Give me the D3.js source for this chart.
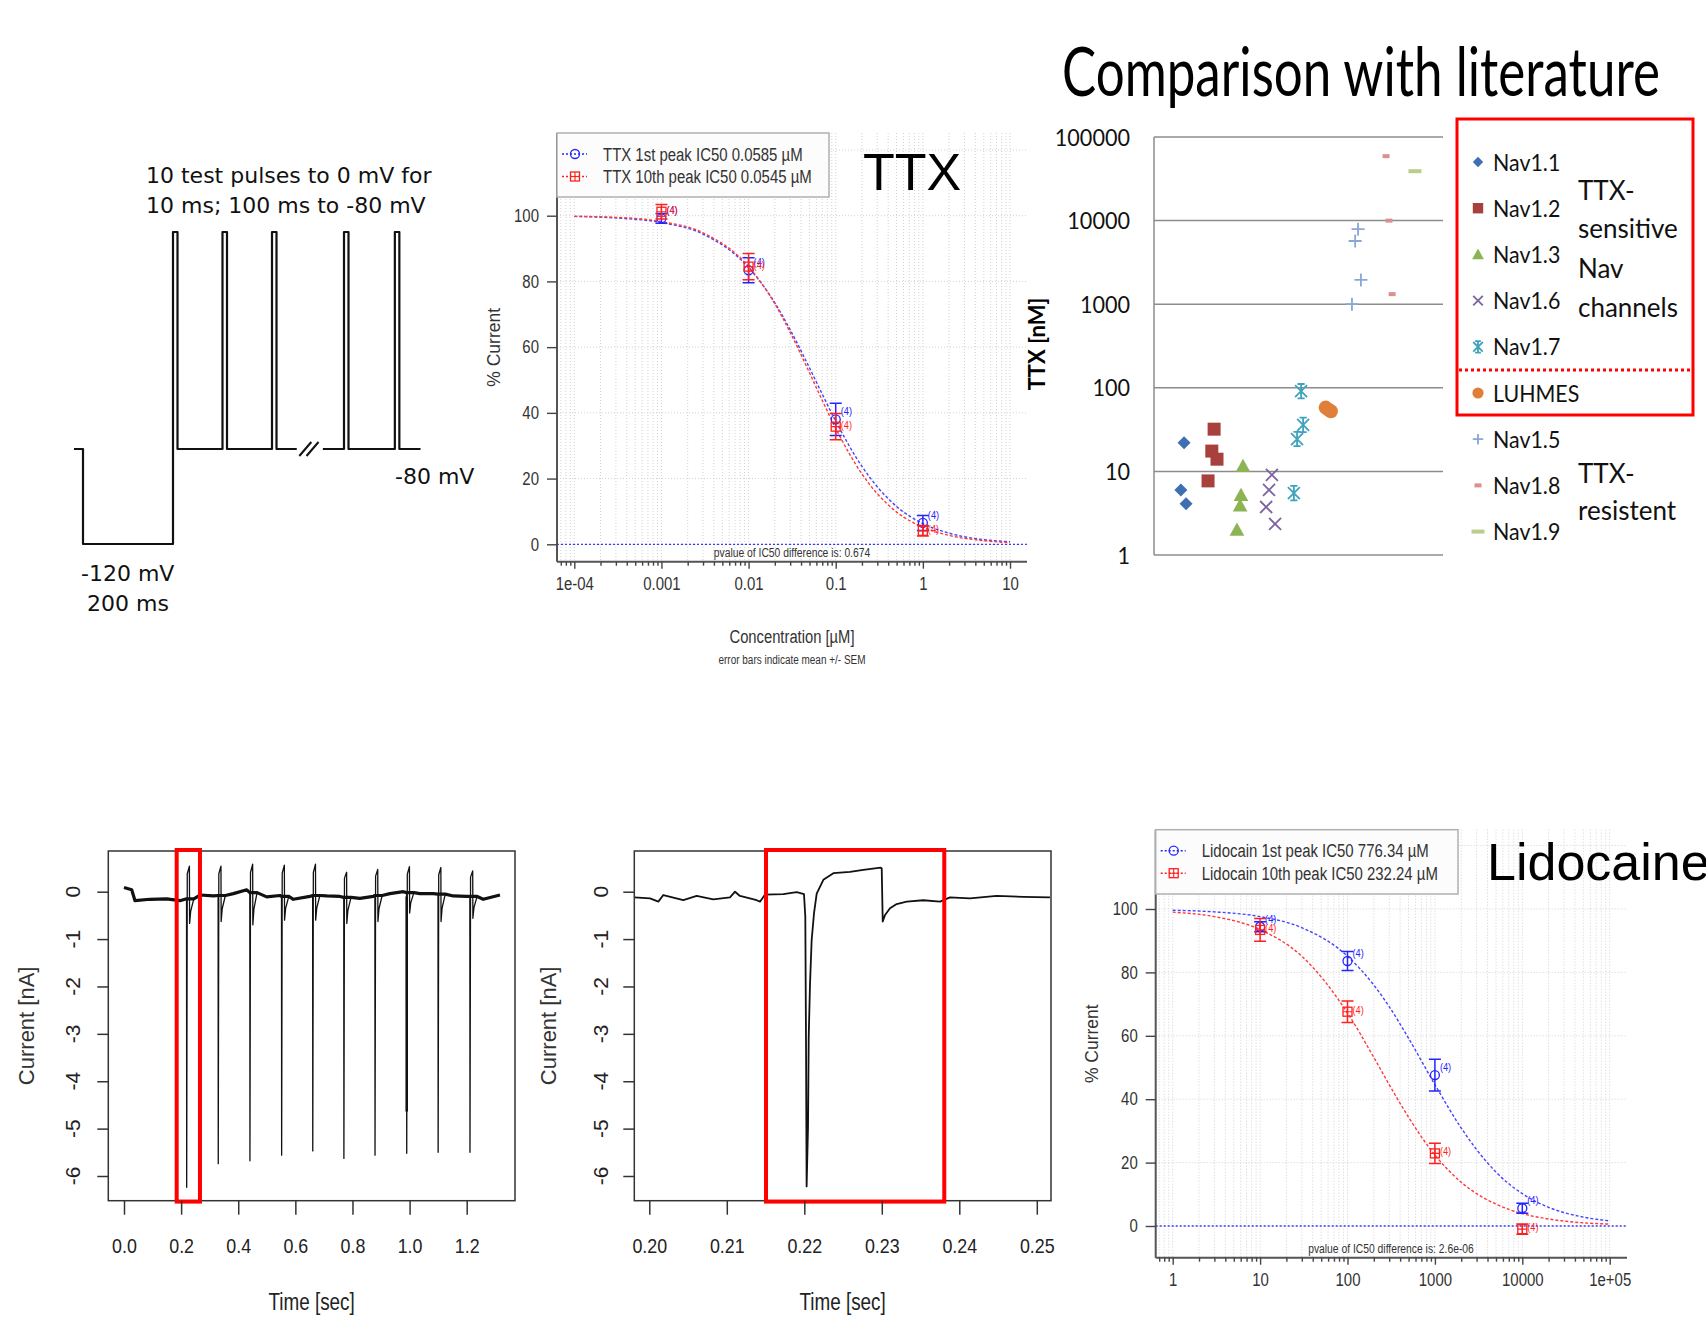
<!DOCTYPE html>
<html lang="en">
<head>
<meta charset="utf-8">
<title>Nav currents: protocol, TTX and lidocaine</title>
<script src="https://cdn.jsdelivr.net/npm/d3@7"></script>
<style>
  body { margin: 0; background: #fff; }
  svg { display: block; }
</style>
</head>
<body>
<script>
// ---------------- data ----------------

// stimulation protocol (time in ms, potential in mV)
var protoTime1 = [-20, 0, 0, 200, 200, 210, 210, 310, 310, 320, 320, 420, 420, 430, 430, 475];
var protoVolt1 = [-80, -80, -120, -120, 0, 0, -80, -80, 0, 0, -80, -80, 0, 0, -80, -80];
var protoTime2 = [533, 580, 580, 590, 590, 693, 693, 703, 703, 750];
var protoVolt2 = [-80, -80, 0, 0, -80, -80, 0, 0, -80, -80];
var protoBreakTime = [494, 510];
var protoText = ["10 test pulses to 0 mV for", "10 ms; 100 ms to -80 mV", "-80 mV", "-120 mV", "200 ms"];

// TTX dose response (µM, % current)
var ttxConc = [0.001, 0.01, 0.1, 1];
var ttxFirstMean = [99.2, 83.4, 38.0, 6.5];
var ttxFirstSem = [1.5, 3.8, 4.9, 2.3];
var ttxTenthMean = [101.2, 84.5, 35.8, 4.1];
var ttxTenthSem = [2.2, 4.0, 4.0, 1.6];
var ttxCounts = [4, 4, 4, 4];
var ttxCurveConc = [1e-4, 3e-4, 0.001, 0.003, 0.01, 0.02, 0.03, 0.05, 0.07, 0.1, 0.2, 0.3, 0.5, 1, 2, 5, 10];
var ttxFirstCurve = [99.8, 99.3, 97.9, 94.4, 84.2, 73.5, 65.3, 53.7, 45.7, 37.5, 23.7, 17.5, 11.5, 6.3, 3.4, 1.4, 0.8];
var ttxTenthCurve = [99.8, 99.5, 98.2, 94.8, 84.5, 73.2, 64.5, 52.2, 43.8, 35.3, 21.4, 15.4, 9.8, 5.2, 2.7, 1.1, 0.5];
var ttxTicks = [1e-4, 0.001, 0.01, 0.1, 1, 10];
var ttxTickLabels = ["1e-04", "0.001", "0.01", "0.1", "1", "10"];
var ttxLegend = ["TTX 1st peak IC50 0.0585 µM", "TTX 10th peak IC50 0.0545 µM"];
var ttxPvalue = "pvalue of IC50 difference is: 0.674";

// Lidocaine dose response (µM, % current)
var lidoConc = [10, 100, 1000, 10000];
var lidoFirstMean = [94.4, 83.6, 47.6, 5.6];
var lidoFirstSem = [1.6, 3.0, 5.0, 1.6];
var lidoTenthMean = [93.4, 67.6, 22.9, -1.0];
var lidoTenthSem = [3.6, 3.4, 3.2, 1.6];
var lidoCounts = [4, 4, 4, 4];
var lidoCurveConc = [1, 3, 10, 30, 100, 200, 300, 500, 1000, 2000, 3000, 5000, 10000, 20000, 50000, 100000];
var lidoFirstCurve = [99.6, 99.1, 97.6, 94.1, 85.1, 76.0, 69.2, 59.2, 44.6, 30.9, 24.1, 17.0, 10.2, 5.9, 2.8, 1.6];
var lidoTenthCurve = [99.0, 97.6, 93.5, 85.1, 67.2, 53.2, 44.6, 34.3, 22.4, 13.8, 10.2, 6.9, 3.9, 2.2, 1.0, 0.6];
var lidoTicks = [1, 10, 100, 1000, 10000, 100000];
var lidoTickLabels = ["1", "10", "100", "1000", "10000", "1e+05"];
var lidoLegend = ["Lidocain 1st peak IC50 776.34 µM", "Lidocain 10th peak IC50 232.24 µM"];
var lidoPvalue = "pvalue of IC50 difference is: 2.6e-06";

var pctTicks = [0, 20, 40, 60, 80, 100];
var pctGrid = [0, 20, 40, 60, 80, 100, 120];

// literature comparison (IC50 of TTX in nM)
var litNames = ["Nav1.1", "Nav1.2", "Nav1.3", "Nav1.6", "Nav1.7", "LUHMES", "Nav1.5", "Nav1.8", "Nav1.9"];
var litShapes = ["diamond", "square", "triangle", "x", "asterisk", "circle", "plus", "dash", "longdash"];
var litColors = ["#3f6fb2", "#a8403e", "#8db353", "#7d63a0", "#3fa3bd", "#e07f3a", "#8aa6d6", "#d9908e", "#b7cf8a"];
var litX = [[1.04, 0.93, 1.11], [2.08, 2.0, 2.18, 1.87], [3.08, 3.01, 2.98, 2.87], [4.08, 3.98, 3.88, 4.19],
            [5.09, 5.16, 4.95, 4.84], [5.94, 6.03, 6.12], [7.06, 6.96, 7.16, 6.85], [8.03, 8.13, 8.24], [9.03]];
var litNM = [[22, 6, 4.1], [32, 17.5, 14, 7.7], [11.6, 5.2, 3.9, 2.0], [9.1, 6.0, 3.75, 2.35],
             [91, 36, 24.4, 5.5], [58, 55, 52.5], [7900, 5700, 1950, 1000], [59000, 10000, 1320], [39000]];
var litTicks = [1, 10, 100, 1000, 10000, 100000];
var litSensitiveText = ["TTX-", "sensitive", "Nav", "channels"];
var litResistentText = ["TTX-", "resistent"];

// current traces (s, nA)
var eBaseTime = [0, 0.027, 0.0385, 0.091, 0.149, 0.196, 0.266, 0.313, 0.383, 0.43, 0.4996, 0.546, 0.593, 0.651,
                 0.71, 0.756, 0.826, 0.873, 0.931, 0.978, 1.036, 1.083, 1.153, 1.2, 1.258, 1.3165];
var eBaseCurrent = [0.09, 0.04, -0.19, -0.16, -0.15, -0.19, -0.07, -0.09, -0.04, 0.04, -0.11, -0.08, -0.16, -0.1,
                    -0.09, -0.1, -0.14, -0.1, -0.04, 0.0, -0.04, -0.04, -0.09, -0.1, -0.16, -0.07];
var ePulseTime = [0.2195, 0.330, 0.441, 0.552, 0.661, 0.770, 0.879, 0.990, 1.100, 1.2115];
var ePulseBase = [-0.15, -0.08, -0.02, -0.1, -0.08, -0.12, -0.08, -0.02, -0.05, -0.1];
var ePulseMin = [-6.24, -5.74, -5.68, -5.56, -5.47, -5.63, -5.56, -5.52, -5.50, -5.50];
var ePulsePeak = [0.54, 0.54, 0.58, 0.56, 0.58, 0.41, 0.47, 0.53, 0.51, 0.44];
var ePulseTail = [-0.67, -0.63, -0.70, -0.60, -0.60, -0.67, -0.63, -0.45, -0.63, -0.56];
var eOverlayTime = [0.990, 0.990];
var eOverlayCurrent = [-0.1, -4.64];
var eTicks = [0, 0.2, 0.4, 0.6, 0.8, 1.0, 1.2];
var eWindow = [0.1845, 0.266];

var fTime = [0.19806, 0.20009, 0.20117, 0.20181, 0.20439, 0.20611, 0.20826, 0.21041, 0.21106, 0.2117, 0.21386,
             0.21428, 0.21493, 0.21729, 0.21902, 0.21996, 0.22013, 0.22022, 0.2203, 0.22048, 0.22057, 0.22074,
             0.22095, 0.22125, 0.2216, 0.22246, 0.22375, 0.2259, 0.22761, 0.22986, 0.22999, 0.23012, 0.23042,
             0.23106, 0.23192, 0.23321, 0.23536, 0.23751, 0.2388, 0.24138, 0.24482, 0.24826, 0.2517];
var fCurrent = [-0.12, -0.14, -0.21, -0.07, -0.18, -0.09, -0.16, -0.12, 0.0, -0.09, -0.18,
                -0.21, -0.06, -0.05, -0.01, -0.05, -0.53, -3.13, -6.22, -4.96, -3.06, -1.93,
                -1.02, -0.46, -0.04, 0.25, 0.39, 0.42, 0.46, 0.51, 0.49, -0.63, -0.49,
                -0.35, -0.26, -0.21, -0.18, -0.21, -0.12, -0.14, -0.09, -0.11, -0.12];
var fTicks = [0.20, 0.21, 0.22, 0.23, 0.24, 0.25];
var fWindow = [0.21506, 0.23806];
var traceTicks = [0, -1, -2, -3, -4, -5, -6];
var windowCurrent = [0.88, -6.54];

// ---------------- drawing ----------------
var RF = "'Liberation Sans', Arial, sans-serif";
var CF = "Lato, 'Open Sans', sans-serif";
var DF = "'DejaVu Sans', Verdana, sans-serif";

var svg = d3.select("body").append("svg")
    .attr("width", 1706).attr("height", 1325)
    .style("background", "#fff");

// horizontally compress text (the source graphics are narrow)
function squeeze(sel, k) {
  sel.each(function () {
    var w = this.getComputedTextLength();
    d3.select(this).attr("textLength", w * k).attr("lengthAdjust", "spacingAndGlyphs");
  });
}

// ---- protocol sketch ----
var gP = svg.append("g");
var xP = d3.scaleLinear().domain([0, 200]).range([83, 173]);
var yP = d3.scaleLinear().domain([-120, -80, 0]).range([544, 449, 232]);
var protoLine = d3.line().x(d => xP(d[0])).y(d => yP(d[1]));
[d3.zip(protoTime1, protoVolt1), d3.zip(protoTime2, protoVolt2)].forEach(function (seg) {
  gP.append("path").attr("d", protoLine(seg))
    .attr("fill", "none").attr("stroke", "#111").attr("stroke-width", 2.2)
    .attr("stroke-linejoin", "round");
});
gP.selectAll(".slash").data(protoBreakTime).enter().append("line")
    .attr("x1", d => xP(d) - 6).attr("x2", d => xP(d) + 6)
    .attr("y1", yP(-80) + 7).attr("y2", yP(-80) - 7)
    .attr("stroke", "#111").attr("stroke-width", 2);
var protoPos = [[146, 183], [146, 213], [395, 484], [81, 581], [87, 611]];
gP.selectAll(".plab").data(protoText).enter().append("text")
    .attr("x", (d, i) => protoPos[i][0]).attr("y", (d, i) => protoPos[i][1])
    .attr("font-family", DF).attr("font-size", 22).attr("fill", "#111")
    .text(d => d);

// ---- dose-response panels (R style) ----
function blueRedMarker(g, kind, cx, cy, color) {
  if (kind === "circle") {
    g.append("circle").attr("cx", cx).attr("cy", cy).attr("r", 4.5)
      .attr("fill", "none").attr("stroke", color).attr("stroke-width", 1.3);
  } else {
    g.append("rect").attr("x", cx - 4.5).attr("y", cy - 4.5).attr("width", 9).attr("height", 9)
      .attr("fill", "none").attr("stroke", color).attr("stroke-width", 1.3);
    g.append("path").attr("d", "M" + (cx - 4.5) + "," + cy + "H" + (cx + 4.5) + "M" + cx + "," + (cy - 4.5) + "V" + (cy + 4.5))
      .attr("stroke", color).attr("stroke-width", 1.1);
  }
}

function dosePanel(o) {
  var g = svg.append("g").attr("font-family", RF);
  var x = o.x, y = o.y;
  var lo = x.invert(o.left), hi = x.invert(o.right);
  var gridX = [];
  for (var k = Math.floor(Math.log10(lo)); k <= Math.ceil(Math.log10(hi)); k++) {
    for (var m = 1; m < 10; m++) {
      var v = m * Math.pow(10, k);
      if (v >= lo && v <= hi) gridX.push(v);
    }
  }
  var minor = gridX.filter(v => Math.abs(Math.log10(v) - Math.round(Math.log10(v))) > 1e-6);

  // grid
  g.selectAll(".gx").data(gridX).enter().append("line")
      .attr("x1", d => x(d)).attr("x2", d => x(d)).attr("y1", o.top).attr("y2", o.bottom)
      .attr("stroke", "#d2d2d2").attr("stroke-dasharray", "1,2");
  g.selectAll(".gy").data(pctGrid).enter().append("line")
      .attr("x1", o.left).attr("x2", o.right).attr("y1", d => y(d)).attr("y2", d => y(d))
      .attr("stroke", "#d2d2d2").attr("stroke-dasharray", "1,2");
  g.append("line").attr("x1", o.left).attr("x2", o.right).attr("y1", y(0)).attr("y2", y(0))
      .attr("stroke", "#3b3bff").attr("stroke-width", 1.3).attr("stroke-dasharray", "2,2");

  // fitted curves
  var line = d3.line().x(d => x(d[0])).y(d => y(d[1])).curve(d3.curveMonotoneX);
  g.append("path").attr("d", line(d3.zip(o.curveConc, o.firstCurve)))
      .attr("fill", "none").attr("stroke", "#4545ff").attr("stroke-width", 1.4).attr("stroke-dasharray", "3,2");
  g.append("path").attr("d", line(d3.zip(o.curveConc, o.tenthCurve)))
      .attr("fill", "none").attr("stroke", "#ff3a3a").attr("stroke-width", 1.4).attr("stroke-dasharray", "3,2");

  // points with error bars
  var series = [
    { mean: o.firstMean, sem: o.firstSem, color: "#2424ff", kind: "circle", dy: -4 },
    { mean: o.tenthMean, sem: o.tenthSem, color: "#ff1f1f", kind: "square", dy: 2 }
  ];
  series.forEach(function (s) {
    o.conc.forEach(function (c, i) {
      var cx = x(c), cy = y(s.mean[i]);
      var y1 = y(s.mean[i] - s.sem[i]), y2 = y(s.mean[i] + s.sem[i]);
      g.append("path")
        .attr("d", "M" + cx + "," + y1 + "V" + y2 + "M" + (cx - 6) + "," + y1 + "H" + (cx + 6) + "M" + (cx - 6) + "," + y2 + "H" + (cx + 6))
        .attr("stroke", s.color).attr("stroke-width", 1.5).attr("fill", "none");
      blueRedMarker(g, s.kind, cx, cy, s.color);
      var t = g.append("text").attr("x", cx + 5).attr("y", cy + s.dy)
        .attr("font-size", 11.5).attr("fill", s.color).text("(" + o.counts[i] + ")");
      squeeze(t, 0.8);
    });
  });

  // axes
  g.append("line").attr("x1", o.left).attr("x2", o.right).attr("y1", o.bottom).attr("y2", o.bottom)
      .attr("stroke", "#555").attr("stroke-width", 2);
  g.append("line").attr("x1", o.left).attr("x2", o.left).attr("y1", o.top).attr("y2", o.bottom)
      .attr("stroke", "#555").attr("stroke-width", 2);
  var ax = g.append("g").attr("transform", "translate(0," + o.bottom + ")")
      .call(d3.axisBottom(x).tickValues(o.ticks).tickSize(7).tickFormat((d, i) => o.tickLabels[i]));
  var axm = g.append("g").attr("transform", "translate(0," + o.bottom + ")")
      .call(d3.axisBottom(x).tickValues(minor).tickSize(4).tickFormat(""));
  var ay = g.append("g").attr("transform", "translate(" + o.left + ",0)")
      .call(d3.axisLeft(y).tickValues(pctTicks).tickSize(10).tickPadding(8).tickFormat(d => String(d)));
  [ax, axm, ay].forEach(function (a) {
    a.select(".domain").remove();
    a.attr("font-family", RF).attr("font-size", 18).attr("color", "#444");
    a.selectAll("line").attr("stroke-width", 1.4);
    a.selectAll("text").attr("fill", "#333");
  });
  ax.selectAll("text").attr("y", 28.5).attr("dy", null);
  squeeze(ax.selectAll("text"), 0.83);
  squeeze(ay.selectAll("text"), 0.83);

  g.append("text")
      .attr("transform", "translate(" + o.ylabX + "," + (o.top + o.bottom) / 2 + ") rotate(-90)")
      .attr("text-anchor", "middle").attr("font-size", 17.5).attr("fill", "#333").text("% Current");

  var pv = g.append("text").attr("x", o.pvalX).attr("y", o.bottom - 5)
      .attr("text-anchor", "middle").attr("font-size", 12).attr("fill", "#333").text(o.pvalue);
  squeeze(pv, 0.86);

  // legend
  var L = o.legendBox;
  g.append("rect").attr("x", L[0]).attr("y", L[1]).attr("width", L[2] - L[0]).attr("height", L[3] - L[1])
      .attr("fill", "#fcfcfc").attr("stroke", "#b0b0b0").attr("stroke-width", 1.5);
  var rowY = [L[1] + 21, L[1] + 43.5];
  series.forEach(function (s, i) {
    g.append("line").attr("x1", L[0] + 5).attr("x2", L[0] + 30).attr("y1", rowY[i]).attr("y2", rowY[i])
      .attr("stroke", s.color).attr("stroke-width", 1.4).attr("stroke-dasharray", "2,2");
    blueRedMarker(g, s.kind, L[0] + 18, rowY[i], s.color);
    var t = g.append("text").attr("x", L[0] + 46).attr("y", rowY[i] + 6.5)
      .attr("font-size", 18).attr("fill", "#333").text(o.legend[i]);
    squeeze(t, 0.83);
  });

  // big panel label
  svg.append("text").attr("x", o.titleX).attr("y", o.titleY)
      .attr("font-family", RF).attr("font-size", 52).attr("fill", "#000").text(o.title);
  return g;
}

var ttxG = dosePanel({
  x: d3.scaleLog().domain([1e-4, 10]).range([574.3, 1010]),
  y: d3.scaleLinear().domain([0, 100]).range([544.3, 215.7]),
  left: 557, right: 1027, top: 133, bottom: 561.7,
  conc: ttxConc, firstMean: ttxFirstMean, firstSem: ttxFirstSem,
  tenthMean: ttxTenthMean, tenthSem: ttxTenthSem, counts: ttxCounts,
  curveConc: ttxCurveConc, firstCurve: ttxFirstCurve, tenthCurve: ttxTenthCurve,
  ticks: ttxTicks, tickLabels: ttxTickLabels, legend: ttxLegend, pvalue: ttxPvalue,
  legendBox: [557, 133, 829, 197], ylabX: 500, pvalX: 792,
  title: "TTX", titleX: 863, titleY: 190
});
var xt = ttxG.append("text").attr("x", 792).attr("y", 643).attr("text-anchor", "middle")
    .attr("font-size", 18).attr("fill", "#333").text("Concentration [µM]");
squeeze(xt, 0.82);
var note = ttxG.append("text").attr("x", 792).attr("y", 664).attr("text-anchor", "middle")
    .attr("font-size", 12).attr("fill", "#333").text("error bars indicate mean +/- SEM");
squeeze(note, 0.83);

dosePanel({
  x: d3.scaleLog().domain([1, 100000]).range([1172.7, 1609.7]),
  y: d3.scaleLinear().domain([0, 100]).range([1226, 909]),
  left: 1155.7, right: 1627, top: 829.7, bottom: 1257.7,
  conc: lidoConc, firstMean: lidoFirstMean, firstSem: lidoFirstSem,
  tenthMean: lidoTenthMean, tenthSem: lidoTenthSem, counts: lidoCounts,
  curveConc: lidoCurveConc, firstCurve: lidoFirstCurve, tenthCurve: lidoTenthCurve,
  ticks: lidoTicks, tickLabels: lidoTickLabels, legend: lidoLegend, pvalue: lidoPvalue,
  legendBox: [1155.7, 829.7, 1458, 894], ylabX: 1098, pvalX: 1391,
  title: "Lidocaine", titleX: 1487, titleY: 880
});

// ---- literature comparison ----
var gL = svg.append("g").attr("font-family", CF);
var xLit = d3.scaleLinear().domain([0, 10]).range([1154, 1443]);
var yLit = d3.scaleLog().domain([1, 100000]).range([555, 137]);

// title: narrow it with a horizontal scale so it spans the same width as the source
var titleG = gL.append("g");
var title = titleG.append("text").attr("x", 0).attr("y", 0).attr("font-size", 68).attr("fill", "#000")
    .text("Comparison with literature");
var titleW = title.node().getComputedTextLength();
titleG.attr("transform", "translate(1062,96) scale(" + (598 / titleW) + ",1)");

gL.selectAll(".lg").data(litTicks).enter().append("line")
    .attr("x1", xLit(0)).attr("x2", xLit(10)).attr("y1", d => yLit(d)).attr("y2", d => yLit(d))
    .attr("stroke", "#8c8c8c").attr("stroke-width", 1.5);
gL.append("line").attr("x1", xLit(0)).attr("x2", xLit(0)).attr("y1", yLit(100000)).attr("y2", yLit(1))
    .attr("stroke", "#8c8c8c").attr("stroke-width", 1.5);
var litLab = gL.selectAll(".ll").data(litTicks).enter().append("text")
    .attr("x", 1130).attr("y", d => yLit(d)).attr("dy", "0.36em").attr("text-anchor", "end")
    .attr("font-size", 24).attr("fill", "#111").text(d => String(d));
squeeze(litLab, 0.9);
gL.append("text").attr("transform", "translate(1045,344) rotate(-90)")
    .attr("text-anchor", "middle").attr("font-size", 22).attr("font-weight", "bold").attr("fill", "#000")
    .text("TTX [nM]");

function litMarker(sel, shape, color, s) {
  if (shape === "circle") {
    sel.append("circle").attr("r", s).attr("fill", color);
    return;
  }
  var d, filled = true;
  if (shape === "diamond") d = "M0," + (-s) + "L" + s + ",0L0," + s + "L" + (-s) + ",0Z";
  else if (shape === "square") d = "M" + (-s) + "," + (-s) + "h" + 2 * s + "v" + 2 * s + "h" + (-2 * s) + "Z";
  else if (shape === "triangle") d = "M0," + (-s * 1.05) + "L" + s * 1.05 + "," + s * 0.85 + "L" + (-s * 1.05) + "," + s * 0.85 + "Z";
  else if (shape === "dash") d = "M-3.5,-2h7v4h-7Z";
  else if (shape === "longdash") d = "M-6.5,-2h13v4h-13Z";
  else {
    filled = false;
    if (shape === "x") d = "M" + (-s) + "," + (-s) + "L" + s + "," + s + "M" + (-s) + "," + s + "L" + s + "," + (-s);
    else if (shape === "plus") d = "M" + (-s) + ",0H" + s + "M0," + (-s) + "V" + s;
    else d = "M" + (-s) + "," + (-s) + "L" + s + "," + s + "M" + (-s) + "," + s + "L" + s + "," + (-s) +
             "M0," + (-s * 1.2) + "V" + s * 1.2 + "M" + (-s * 0.6) + "," + (-s * 1.2) + "H" + s * 0.6 + "M" + (-s * 0.6) + "," + s * 1.2 + "H" + s * 0.6;
  }
  sel.append("path").attr("d", d)
    .attr("fill", filled ? color : "none")
    .attr("stroke", filled ? "none" : color).attr("stroke-width", 1.8);
}
var litSize = [6.5, 6.5, 7, 6, 6, 7, 6.5, 6, 6];
litNames.forEach(function (name, gi) {
  litX[gi].forEach(function (xv, j) {
    var m = gL.append("g").attr("transform", "translate(" + xLit(xv) + "," + yLit(litNM[gi][j]) + ")");
    litMarker(m, litShapes[gi], litColors[gi], litSize[gi]);
  });
});

// legend
gL.append("rect").attr("x", 1457).attr("y", 119).attr("width", 236).attr("height", 296)
    .attr("fill", "none").attr("stroke", "#ff0000").attr("stroke-width", 3);
gL.append("line").attr("x1", 1459).attr("x2", 1691).attr("y1", 370).attr("y2", 370)
    .attr("stroke", "#ff0000").attr("stroke-width", 3).attr("stroke-dasharray", "3,3");
litNames.forEach(function (name, i) {
  var cy = 162 + i * 46.2;
  var m = gL.append("g").attr("transform", "translate(1478," + cy + ")");
  litMarker(m, litShapes[i], litColors[i], litSize[i] * 0.8);
  var t = gL.append("text").attr("x", 1493).attr("y", cy + 8.5).attr("font-size", 23).attr("fill", "#111").text(name);
  squeeze(t, 0.93);
});
var sensY = [200, 238, 278, 317];
litSensitiveText.forEach(function (s, i) {
  gL.append("text").attr("x", 1578).attr("y", sensY[i]).attr("font-size", 26).attr("fill", "#111").text(s);
});
var resY = [483, 520];
litResistentText.forEach(function (s, i) {
  gL.append("text").attr("x", 1578).attr("y", resY[i]).attr("font-size", 26).attr("fill", "#111").text(s);
});

// ---- current traces ----
function tracePanel(o) {
  var g = svg.append("g").attr("font-family", RF);
  var x = o.x, y = o.y;
  var line = d3.line().x(d => x(d[0])).y(d => y(d[1]));
  o.paths.forEach(function (p) {
    g.append("path").attr("d", line(p.pts)).attr("fill", "none")
      .attr("stroke", "#111").attr("stroke-width", p.w).attr("stroke-linejoin", "round");
  });
  g.append("rect").attr("x", o.left).attr("y", o.top).attr("width", o.right - o.left).attr("height", o.bottom - o.top)
      .attr("fill", "none").attr("stroke", "#333").attr("stroke-width", 1.5);
  g.append("rect").attr("x", x(o.window[0])).attr("y", y(windowCurrent[0]))
      .attr("width", x(o.window[1]) - x(o.window[0])).attr("height", y(windowCurrent[1]) - y(windowCurrent[0]))
      .attr("fill", "none").attr("stroke", "#ff0000").attr("stroke-width", 4);
  var ax = g.append("g").attr("transform", "translate(0," + o.bottom + ")")
      .call(d3.axisBottom(x).tickValues(o.ticks).tickSize(14).tickFormat(d3.format(o.fmt)));
  var ay = g.append("g").attr("transform", "translate(" + o.left + ",0)")
      .call(d3.axisLeft(y).tickValues(traceTicks).tickSize(11).tickFormat(""));
  [ax, ay].forEach(function (a) {
    a.select(".domain").remove();
    a.attr("font-family", RF).attr("font-size", 21).attr("color", "#333");
    a.selectAll("line").attr("stroke-width", 1.5);
  });
  ax.selectAll("text").attr("y", 52).attr("dy", null).attr("fill", "#222");
  squeeze(ax.selectAll("text"), 0.85);
  g.selectAll(".yl").data(traceTicks).enter().append("text")
      .attr("transform", d => "translate(" + o.yLabX + "," + y(d) + ") rotate(-90)")
      .attr("text-anchor", "middle").attr("font-size", 21).attr("fill", "#222").text(d => String(d));
  g.append("text").attr("transform", "translate(" + o.titleYX + "," + (o.top + o.bottom) / 2 + ") rotate(-90)")
      .attr("text-anchor", "middle").attr("font-size", 22).attr("fill", "#333").text("Current [nA]");
  var xt = g.append("text").attr("x", (o.left + o.right) / 2).attr("y", 1310)
      .attr("text-anchor", "middle").attr("font-size", 23).attr("fill", "#222").text("Time [sec]");
  squeeze(xt, 0.82);
}

var eAll = d3.zip(eBaseTime, eBaseCurrent);
var eBase = d3.zip(eBaseTime, eBaseCurrent);
ePulseTime.forEach(function (t, i) {
  eAll.push([t - 0.0005, ePulseBase[i]], [t, ePulseMin[i]], [t + 0.002, ePulsePeak[i] * 0.7],
            [t + 0.0095, ePulsePeak[i]], [t + 0.0102, ePulseTail[i]],
            [t + 0.014, (ePulseTail[i] + ePulseBase[i]) / 2], [t + 0.025, ePulseBase[i]]);
  eBase.push([t - 0.0005, ePulseBase[i]], [t + 0.025, ePulseBase[i]]);
});
eAll.sort((a, b) => a[0] - b[0]);
eBase.sort((a, b) => a[0] - b[0]);

tracePanel({
  x: d3.scaleLinear().domain([0, 1.2]).range([124, 466.7]),
  y: d3.scaleLinear().domain([0, -6]).range([891.7, 1176]),
  left: 108.3, right: 515, top: 851, bottom: 1200.7,
  ticks: eTicks, fmt: ".1f", window: eWindow, yLabX: 80, titleYX: 34,
  paths: [{ pts: eAll, w: 1.3 }, { pts: eBase, w: 3.2 }, { pts: d3.zip(eOverlayTime, eOverlayCurrent), w: 2.6 }]
});

tracePanel({
  x: d3.scaleLinear().domain([0.2, 0.24]).range([649.3, 959.3]),
  y: d3.scaleLinear().domain([0, -6]).range([891.7, 1176]),
  left: 634.3, right: 1051, top: 851, bottom: 1200.7,
  ticks: fTicks, fmt: ".2f", window: fWindow, yLabX: 608, titleYX: 556,
  paths: [{ pts: d3.zip(fTime, fCurrent), w: 1.8 }]
});
</script>
</body>
</html>
